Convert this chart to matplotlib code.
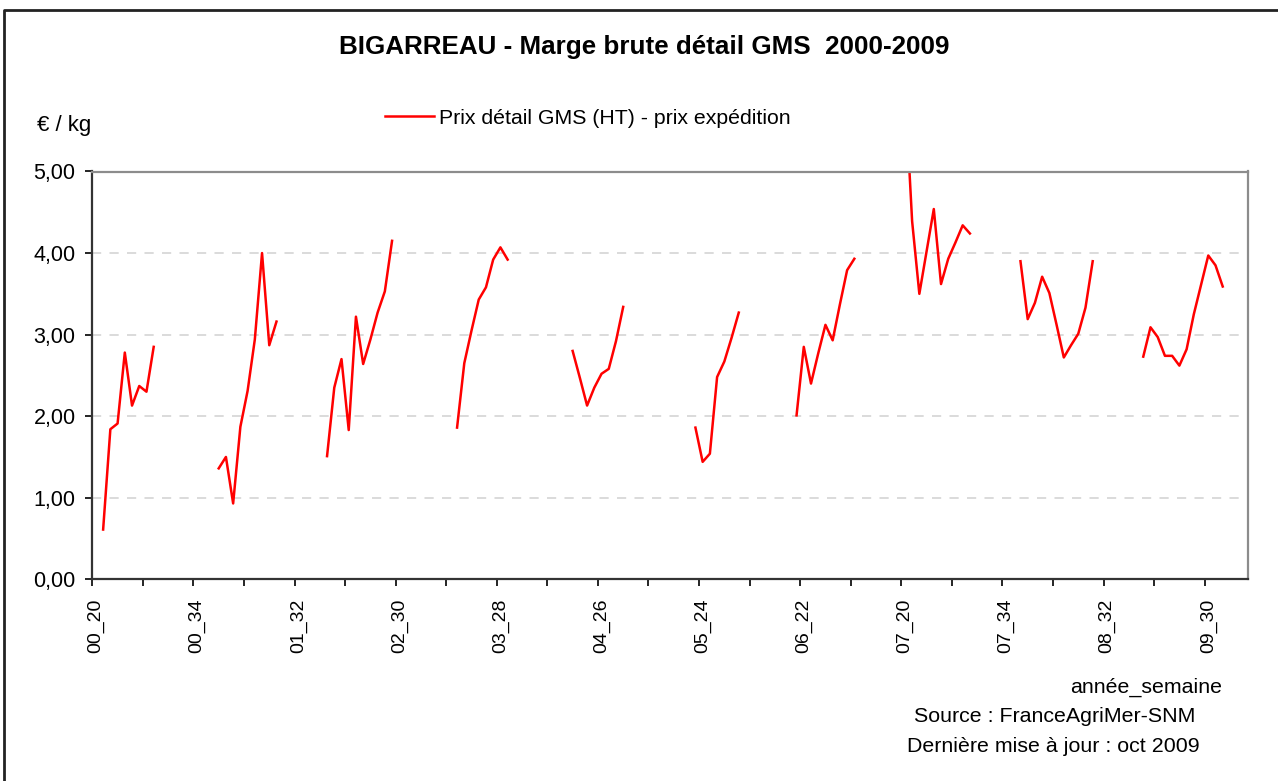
import numpy as np
import matplotlib
matplotlib.use("Agg")
import matplotlib.pyplot as plt
from matplotlib.lines import Line2D

plt.rcParams['font.family'] = ['Liberation Sans', 'DejaVu Sans']

#%% data: weeks 20..35 for every year, values read per year
years = list(range(2000, 2010))
weeks = list(range(20, 36))

w2000 = [21, 22, 23, 24, 25, 26, 27, 28]
v2000 = [0.61, 1.84, 1.91, 2.78, 2.13, 2.37, 2.30, 2.85]
w2001 = [21, 22, 23, 24, 25, 26, 27, 28, 29]
v2001 = [1.36, 1.50, 0.93, 1.87, 2.31, 2.94, 4.00, 2.87, 3.16]
w2002 = [20, 21, 22, 23, 24, 25, 26, 27, 28, 29]
v2002 = [1.51, 2.35, 2.70, 1.83, 3.22, 2.64, 2.94, 3.27, 3.53, 4.15]
w2003 = [22, 23, 24, 25, 26, 27, 28, 29]
v2003 = [1.86, 2.65, 3.05, 3.43, 3.58, 3.92, 4.07, 3.92]
w2004 = [22, 23, 24, 25, 26, 27, 28, 29]
v2004 = [2.80, 2.47, 2.13, 2.35, 2.52, 2.58, 2.92, 3.34]
w2005 = [23, 24, 25, 26, 27, 28, 29]
v2005 = [1.86, 1.44, 1.54, 2.48, 2.67, 2.96, 3.27]
w2006 = [21, 22, 23, 24, 25, 26, 27, 28, 29]
v2006 = [2.01, 2.85, 2.40, 2.77, 3.12, 2.93, 3.37, 3.79, 3.93]
w2007 = [20, 21, 22, 23, 24, 25, 26, 27, 28, 29]
v2007 = [6.05, 4.39, 3.50, 4.02, 4.54, 3.62, 3.93, 4.13, 4.34, 4.24]
w2008 = [20, 21, 22, 23, 24, 25, 26, 27, 28, 29, 30]
v2008 = [3.90, 3.19, 3.39, 3.71, 3.51, 3.12, 2.72, 2.87, 3.01, 3.33, 3.90]
w2009 = [21, 22, 23, 24, 25, 26, 27, 28, 29, 30, 31, 32]
v2009 = [2.73, 3.09, 2.97, 2.74, 2.74, 2.62, 2.82, 3.25, 3.61, 3.97, 3.85, 3.59]

season_weeks = [w2000, w2001, w2002, w2003, w2004, w2005, w2006, w2007, w2008, w2009]
season_vals = [v2000, v2001, v2002, v2003, v2004, v2005, v2006, v2007, v2008, v2009]

#%% build the category axis (année_semaine) with gaps
labels = ["%02d_%d" % (y % 100, w) for y in years for w in weeks]
series = np.full(len(labels), np.nan)
for y, ws, vs in zip(years, season_weeks, season_vals):
    for w, v in zip(ws, vs):
        series[labels.index("%02d_%d" % (y % 100, w))] = v

x = np.arange(len(labels))

#%% plot
fig = plt.figure(figsize=(12.78, 7.81), dpi=100)
ax = fig.add_axes([92.3 / 1278, 1 - 579.3 / 781, (1248 - 92.3) / 1278, (579.3 - 171.5) / 781])

line, = ax.plot(x, series, color='#ff0000', lw=1.8, label='Prix détail GMS (HT) - prix expédition')

ax.set_xlim(-0.5, len(labels) - 0.5)
ax.set_ylim(0, 5)

yt = np.arange(0, 5.01, 1)
ax.set_yticks(yt)
ax.set_yticklabels([("%.2f" % t).replace('.', ',') for t in yt])
ax.set_xticks(x[::14])
ax.set_xticklabels(labels[::14], rotation=90)
ax.set_xticks(np.arange(-0.5, len(labels), 7), minor=True)
ax.tick_params(axis='x', which='major', length=0, pad=14, labelsize=14)
ax.tick_params(axis='x', which='minor', length=5, width=1.2, direction='out')
ax.tick_params(axis='y', length=5, width=1.2, pad=7, labelsize=15.5)

for yv in [1, 2, 3, 4]:
    ax.axhline(yv, color='#d4d4d4', lw=1.2, ls=(0, (5.5, 5)), zorder=0)

for s in ['left', 'bottom']:
    ax.spines[s].set_color('#333333')
    ax.spines[s].set_linewidth(1.6)
for s in ['top', 'right']:
    ax.spines[s].set_color('#8c8c8c')
    ax.spines[s].set_linewidth(1.6)

fig.text(644 / 1278, 1 - 47 / 781, 'BIGARREAU - Marge brute détail GMS  2000-2009',
         ha='center', va='center', fontsize=18.7, fontweight='bold')
fig.text(37 / 1278, 1 - 131 / 781, '€ / kg', ha='left', va='baseline', fontsize=16)
fig.legend(handles=[line], loc='center left', bbox_to_anchor=(385 / 1278, 1 - 118 / 781),
           frameon=False, fontsize=15.3, handlelength=2.3, handletextpad=0.25,
           borderpad=0, borderaxespad=0)

fig.text(1222 / 1278, 1 - 687 / 781, 'année_semaine', ha='right', va='center', fontsize=15.4)
fig.text(1055 / 1278, 1 - 717 / 781, 'Source : FranceAgriMer-SNM', ha='center', va='center', fontsize=15.4)
fig.text(1053 / 1278, 1 - 747 / 781, 'Dernière mise à jour : oct 2009', ha='center', va='center', fontsize=15.4)

# outer frame of the chart (only top and left visible)
fig.add_artist(Line2D([4 / 1278, 4 / 1278, 1], [0, 1 - 10 / 781, 1 - 10 / 781],
                      transform=fig.transFigure, color='#222222', lw=2))

fig.savefig('out.png', dpi=100)
